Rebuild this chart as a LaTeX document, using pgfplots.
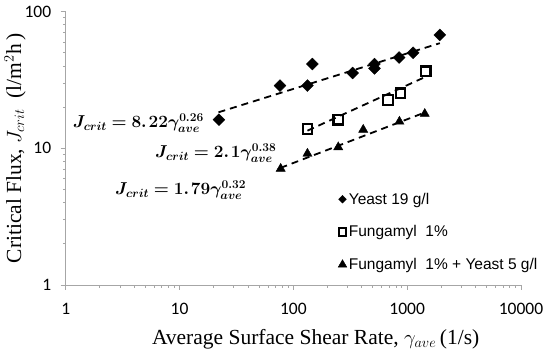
\documentclass[border=0pt]{standalone}
\usepackage{pgfplots}
\pgfplotsset{compat=1.18}
\usepackage{fontspec}
\usepackage{bm}
\setmainfont{Liberation Serif}
\newfontfamily\carlito{Carlito}
\newfontfamily\arial{Liberation Sans}
\definecolor{axisgray}{HTML}{A6A6A6}
\begin{document}
\begin{tikzpicture}
\useasboundingbox (-65.7bp,-69bp) rectangle (484.3bp,285bp);
\begin{axis}[
  at={(0,0)}, anchor=south west,
  scale only axis, width=455.3bp, height=273.3bp,
  xmode=log, ymode=log,
  xmin=1, xmax=10000, ymin=1, ymax=100,
  axis x line=bottom, axis y line=left,
  axis line style={-, draw=axisgray, line width=1bp},
  xtick={1,10,100,1000,10000}, xticklabels={1,10,100,1000,10000},
  ytick={1,10,100}, yticklabels={1,10,100},
  minor xtick={}, minor ytick={},
  tick align=outside, major tick length=5bp,
  tick style={draw=axisgray, line width=1bp},
  ticklabel style={font=\carlito\fontsize{17.5bp}{20bp}\selectfont},
  xticklabel style={yshift=-10bp},
  yticklabel style={xshift=-6bp},
  xlabel={Average Surface Shear Rate, $\gamma_{ave}$\,(1/s)},
  ylabel={Critical Flux, $J_{crit}$\ \ (l/m$^2$h\,)},
  label style={font=\fontsize{21.5bp}{25bp}\selectfont},
  xlabel style={at={(axis description cs:0.549,-0.198)}, anchor=center},
  ylabel style={at={(axis description cs:-0.1114,0.5)}, anchor=center},
  clip=false,
  legend style={draw=none, fill=none, font=\arial\fontsize{15.5bp}{18bp}\selectfont,
    at={(axis description cs:0.598,0.345)}, anchor=north west, row sep=16bp,
    cells={anchor=west}, inner sep=0pt},
  legend image code/.code={\draw[#1] plot coordinates {(0bp,0bp)};},
]
% trend lines
\addplot[black, line width=1.8bp, dash pattern=on 7bp off 5bp, forget plot] coordinates {(22,18.36) (1936,58.82)};
\addplot[black, line width=1.8bp, dash pattern=on 7bp off 5bp, forget plot] coordinates {(133,13.47) (1457,33.44)};
\addplot[black, line width=1.8bp, dash pattern=on 7bp off 5bp, forget plot] coordinates {(77,7.19) (1427,18.29)};
% data
\addplot[only marks, mark=square*, mark size=4.2bp, mark options={rotate=45, fill=black, draw=black},
  legend image post style={mark size=2.7bp}] coordinates {
(22.2,16.2) (76.3,28.8) (133,28.8) (147,41.4) (332,35.6) (516,41.4) (516,38.5) (849,46.2) (1128,50) (1936,67.6)};
\addlegendentry{Yeast 19 g/l}
\addplot[only marks, mark=square, mark size=4.8bp, mark options={line width=2.2bp, fill=white, draw=black},
  legend image post style={mark size=3.8bp, line width=2bp}] coordinates {
(133,13.9) (248,16.2) (677,22.6) (874,25.3) (1457,36.6)};
\addlegendentry{Fungamyl\ \ 1\%}
\addplot[only marks, mark=triangle*, mark size=5.3bp, mark options={fill=black, draw=black},
  legend image post style={mark size=5bp}] coordinates {
(77.4,7.1) (133,9.15) (248,10.2) (411,13.7) (855,15.7) (1427,17.9)};
\addlegendentry{Fungamyl\ \ 1\% + Yeast 5 g/l}
\end{axis}
\node[anchor=base west, inner sep=0pt, font=\fontsize{18.5bp}{22bp}\selectfont] at (7bp,157bp) {$\bm{J_{crit} = 8.\mkern2mu22\gamma^{0.26}_{ave}}$};
\node[anchor=base west, inner sep=0pt, font=\fontsize{18.5bp}{22bp}\selectfont] at (89.3bp,127bp) {$\bm{J_{crit} = 2.\mkern2mu1\gamma^{0.38}_{ave}}$};
\node[anchor=base west, inner sep=0pt, font=\fontsize{18.5bp}{22bp}\selectfont] at (49.3bp,90bp) {$\bm{J_{crit} = 1.\mkern2mu79\gamma^{0.32}_{ave}}$};
\end{tikzpicture}
\end{document}
